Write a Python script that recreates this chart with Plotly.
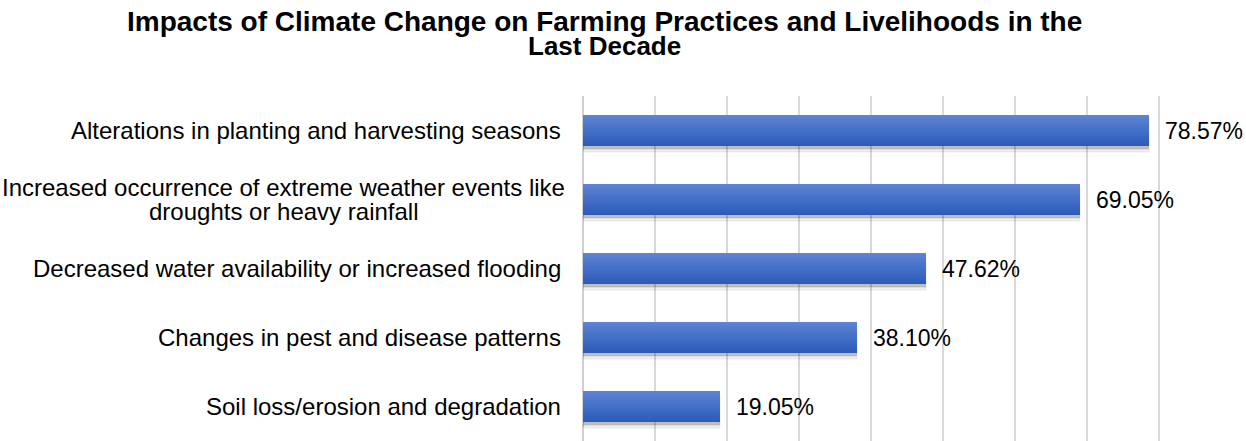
import plotly.graph_objects as go

categories = [
    "Alterations in planting and harvesting seasons",
    "Increased occurrence of extreme weather events like<br>droughts or heavy rainfall",
    "Decreased water availability or increased flooding",
    "Changes in pest and disease patterns",
    "Soil loss/erosion and degradation",
]
values = [78.57, 69.05, 47.62, 38.10, 19.05]
value_labels = ["78.57%", "69.05%", "47.62%", "38.10%", "19.05%"]

TITLE_LINES = [
    "Impacts of Climate Change on Farming Practices and Livelihoods in the",
    "Last Decade",
]
TITLE_SIZES = [28, 26]
FONT = "Liberation Sans, Arial, sans-serif"

W, H = 1246, 441
ML, MR, MT, MB = 583, 15, 96, 0
PLOT_W = W - ML - MR

BAR_W = 0.46
N_STRIPES = 14
TOP_RGB = (93, 132, 212)
BOT_RGB = (44, 91, 186)

fig = go.Figure()

# soft drop shadow under each bar
for k, (dy, a) in enumerate([(0.075, 0.06), (0.055, 0.09), (0.035, 0.12)]):
    fig.add_trace(go.Bar(
        y=categories, x=values, orientation="h",
        width=BAR_W, offset=-BAR_W / 2 + dy,
        marker=dict(color=f"rgba(0,0,0,{a})",
                    line=dict(width=2 - k * 0.5, color=f"rgba(0,0,0,{a * 0.6})")),
        hoverinfo="skip", showlegend=False,
    ))

# vertical colour gradient built from thin stacked stripes
sw = BAR_W / N_STRIPES
for i in range(N_STRIPES):
    t = i / (N_STRIPES - 1)
    r, g, b = (round(TOP_RGB[j] + (BOT_RGB[j] - TOP_RGB[j]) * t) for j in range(3))
    fig.add_trace(go.Bar(
        y=categories, x=values, orientation="h",
        width=sw * 1.05, offset=-BAR_W / 2 + i * sw,
        marker=dict(color=f"rgb({r},{g},{b})", line=dict(width=0)),
        showlegend=False,
    ))

LABEL_SIZE = 24
LINE_GAP = 24
annotations = []
for cat, v, lab in zip(categories, values, value_labels):
    annotations.append(dict(
        x=v, y=cat, xref="x", yref="y", text=lab, showarrow=False,
        xanchor="left", yanchor="middle", xshift=14,
        font=dict(family=FONT, size=23, color="#000000"),
    ))
    lines = cat.split("<br>")
    n = len(lines)
    for j, line in enumerate(lines):
        if n > 1:
            # multi-line labels are centred on each other
            annotations.append(dict(
                x=0, y=cat, xref="paper", yref="y", text=line, showarrow=False,
                xanchor="center", yanchor="middle",
                xshift=-(ML - 283), yshift=((n - 1) / 2 - j) * LINE_GAP,
                font=dict(family=FONT, size=LABEL_SIZE, color="#000000"),
            ))
        else:
            annotations.append(dict(
                x=0, y=cat, xref="paper", yref="y", text=line, showarrow=False,
                xanchor="right", yanchor="middle", xshift=-20,
                font=dict(family=FONT, size=LABEL_SIZE, color="#000000"),
            ))

# two-line bold title with tight line spacing
title_cx = (604 - ML) / PLOT_W
for j, (line, size) in enumerate(zip(TITLE_LINES, TITLE_SIZES)):
    annotations.append(dict(
        x=title_cx, y=1, xref="paper", yref="paper", text=f"<b>{line}</b>",
        showarrow=False, xanchor="center", yanchor="middle",
        yshift=MT - 21 - j * 25,
        font=dict(family=FONT, size=size, color="#000000"),
    ))

fig.update_layout(
    width=W, height=H,
    margin=dict(l=ML, r=MR, t=MT, b=MB),
    paper_bgcolor="white", plot_bgcolor="white",
    barmode="overlay", bargap=0,
    xaxis=dict(
        range=[0, 90], dtick=10, showticklabels=False, ticks="",
        showgrid=True, gridcolor="#d9d9d9", gridwidth=1.5,
        zeroline=True, zerolinecolor="#d0d0d0", zerolinewidth=1.5,
        showline=False,
    ),
    yaxis=dict(
        autorange="reversed", showticklabels=False, ticks="",
        showgrid=False, showline=False, zeroline=False,
    ),
    annotations=annotations,
)

fig.write_html("out.html")
